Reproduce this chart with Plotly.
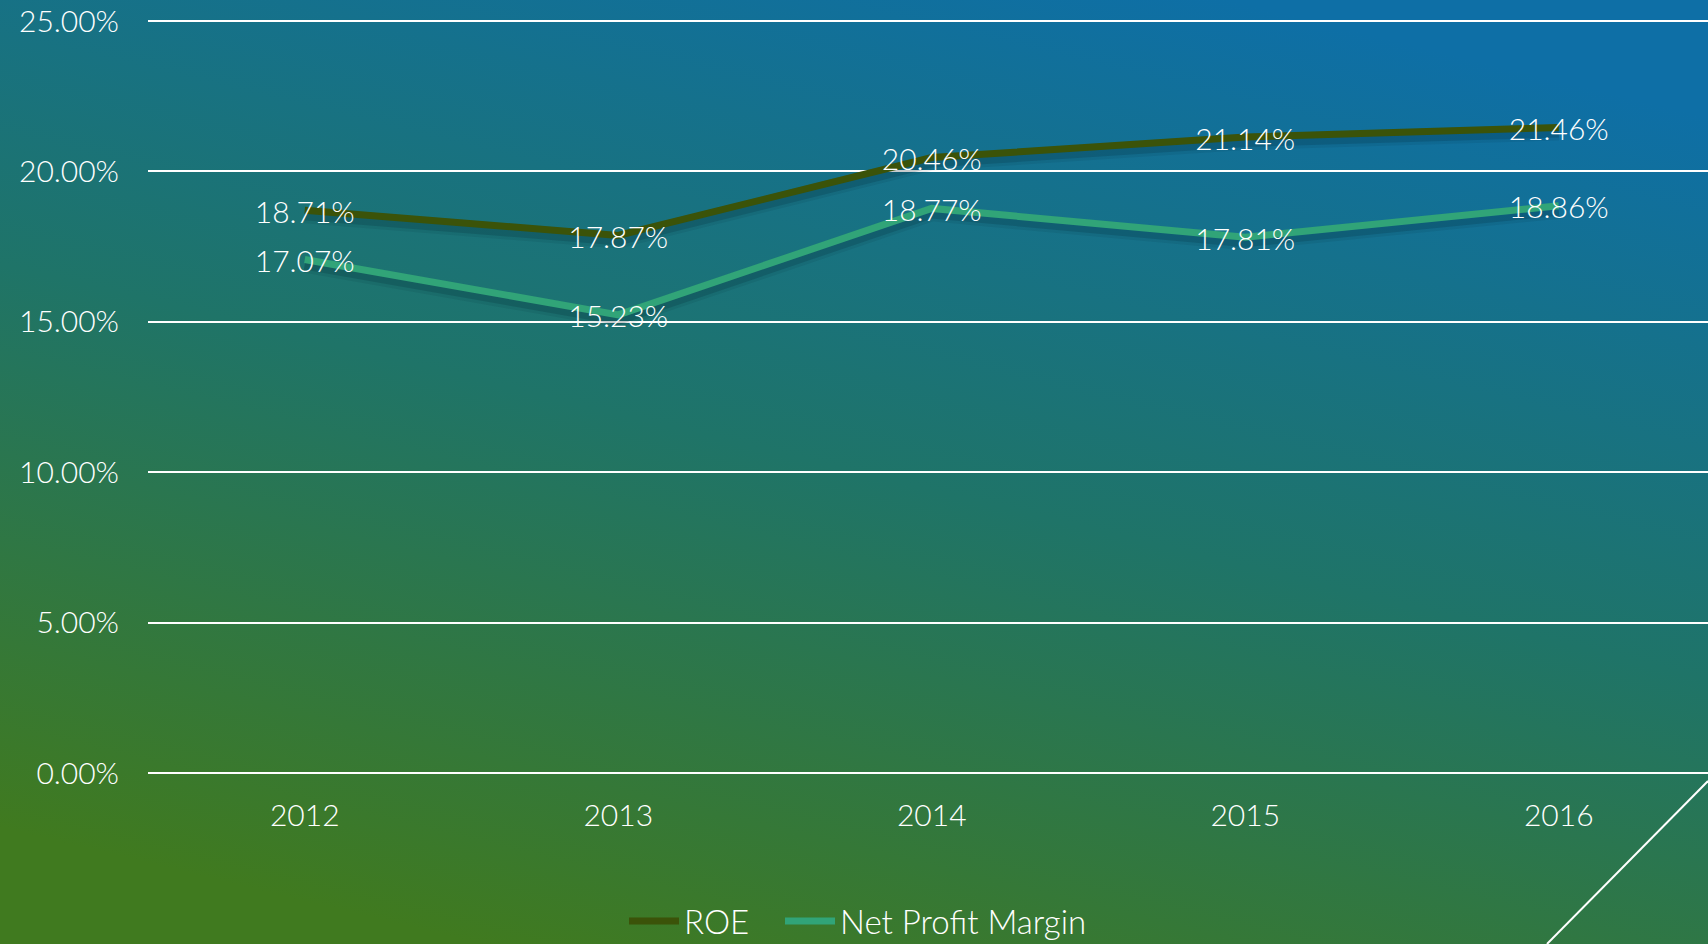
import base64
import plotly.graph_objects as go

years = ["2012", "2013", "2014", "2015", "2016"]
roe = [18.71, 17.87, 20.46, 21.14, 21.46]
npm = [17.07, 15.23, 18.77, 17.81, 18.86]
y_ticks = [0, 5, 10, 15, 20, 25]

W, H = 1708, 944
ML, MR, MT, MB = 148, 0, 19, 171
PW, PH = W - ML - MR, H - MT - MB
Y0_PX = H - MB                 # pixel row of 0%
UNIT = (Y0_PX - 21) / 25       # px per 1% (25% line at row 21)
Y_TOP = PH / UNIT

FONT = "Lato, 'Open Sans', sans-serif"
ROE_COLOR = "#3b5309"
NPM_COLOR = "#31a478"

svg = f'''<svg xmlns="http://www.w3.org/2000/svg" width="{W}" height="{H}" preserveAspectRatio="none">
<defs><linearGradient id="g" x1="0.72" y1="0" x2="0.28" y2="1">
<stop offset="0" stop-color="#0e6fa6"/>
<stop offset="0.5" stop-color="#1f7468"/>
<stop offset="1" stop-color="#407a1f"/>
</linearGradient></defs>
<rect width="{W}" height="{H}" fill="url(#g)"/></svg>'''
bg_src = "data:image/svg+xml;base64," + base64.b64encode(svg.encode()).decode()

fig = go.Figure()

# soft shadows (main y axis, range shifted slightly downward)
for vals in (roe, npm):
    for w, a in ((16, 0.08), (10, 0.16)):
        fig.add_trace(go.Scatter(x=years, y=vals, mode="lines", yaxis="y",
                                 line=dict(color=f"rgba(0,25,40,{a})", width=w),
                                 showlegend=False, hoverinfo="skip"))

fig.add_trace(go.Scatter(x=years, y=roe, name="ROE", mode="lines", yaxis="y2",
                         line=dict(color=ROE_COLOR, width=7), legend="legend"))
fig.add_trace(go.Scatter(x=years, y=npm, name="Net Profit Margin", mode="lines", yaxis="y2",
                         line=dict(color=NPM_COLOR, width=7), legend="legend2"))

# data labels (axis y3, sitting a few px below the points, drawn on top)
for vals in (roe, npm):
    fig.add_trace(go.Scatter(x=years, y=vals, mode="text", yaxis="y3",
                             text=[f"{v:.2f}%" for v in vals], textposition="middle center",
                             textfont=dict(family=FONT, size=30, color="white", weight=300),
                             showlegend=False, hoverinfo="skip"))

shift = 5 / UNIT
xr = [-0.5, -0.5 + PW / 313.5]

leg_common = dict(orientation="h", xanchor="left",
                  y=-(921 - Y0_PX) / PH, yanchor="middle",
                  font=dict(family=FONT, size=33, color="white", weight=300),
                  bgcolor="rgba(0,0,0,0)", itemwidth=50)

fig.update_layout(
    width=W, height=H,
    margin=dict(l=ML, r=MR, t=MT, b=MB, pad=0, autoexpand=False),
    paper_bgcolor="#1f7468", plot_bgcolor="rgba(0,0,0,0)",
    font=dict(family=FONT, size=30, color="white", weight=300),
    xaxis=dict(range=xr, showgrid=False, zeroline=False, showline=False, ticks="",
               tickfont=dict(size=30, color="white", weight=300), ticklabelstandoff=22,
               fixedrange=True),
    yaxis=dict(range=[shift, Y_TOP + shift], visible=False, showgrid=False, zeroline=False,
               fixedrange=True),
    yaxis2=dict(range=[0, Y_TOP], overlaying="y", side="left", tickvals=y_ticks,
                ticktext=[f"{v:.2f}%" for v in y_ticks],
                showgrid=True, gridcolor="white", gridwidth=2,
                zeroline=True, zerolinecolor="white", zerolinewidth=2,
                showline=False, ticks="", ticklabelstandoff=28,
                tickfont=dict(size=30, color="white", weight=300), fixedrange=True),
    yaxis3=dict(range=[shift, Y_TOP + shift], overlaying="y", visible=False,
                showgrid=False, zeroline=False, fixedrange=True),
    legend=dict(x=(624 - ML) / PW, **leg_common),
    legend2=dict(x=(780 - ML) / PW, **leg_common),
    images=[dict(source=bg_src, xref="paper", yref="paper",
                 x=-ML / PW, y=1 + MT / PH, sizex=W / PW, sizey=H / PH,
                 xanchor="left", yanchor="top", sizing="stretch", layer="below")],
    shapes=[dict(type="line", xref="paper", yref="paper",
                 x0=(1547 - ML) / PW, y0=-(H - Y0_PX) / PH,
                 x1=1.0, y1=-(781 - Y0_PX) / PH,
                 line=dict(color="white", width=2))],
    hovermode=False,
)

fig.write_html("out.html", config={"displayModeBar": False},
               post_script="document.body.style.margin='0';document.body.style.overflow='hidden';")
